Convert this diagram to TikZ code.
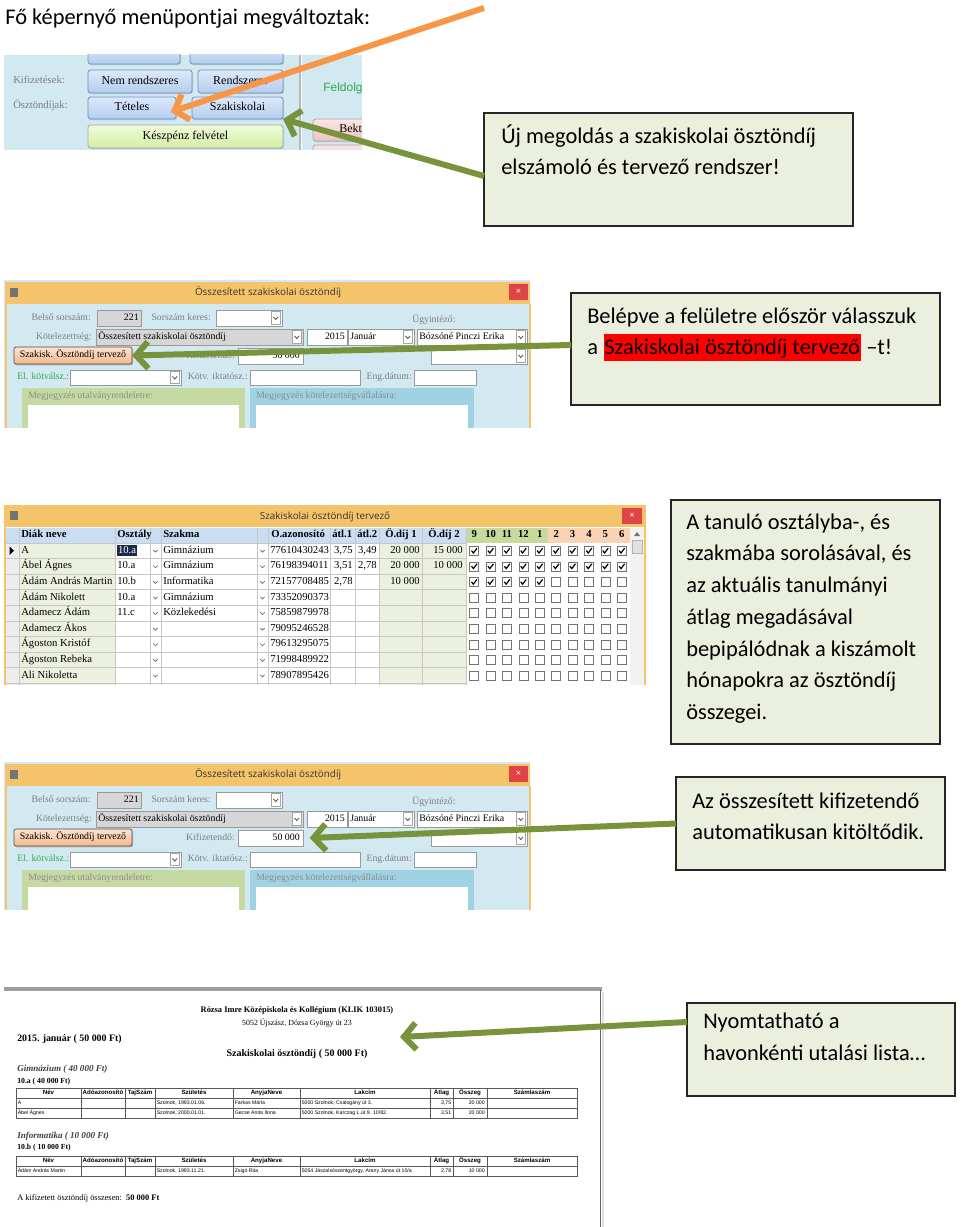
\documentclass[tikz,border=0pt]{standalone}
\usepackage{fontspec}
\setmainfont{Carlito}
\newfontfamily\ser{Liberation Serif}
\newfontfamily\uifont{Open Sans}
\newfontfamily\arl{Liberation Sans}
\usetikzlibrary{arrows.meta,shadows}

\definecolor{calfill}{HTML}{EBF0DE}
\definecolor{arrgreen}{HTML}{77933C}
\definecolor{arrorange}{HTML}{F79646}
\definecolor{scrbg}{HTML}{D2E9F1}
\definecolor{titlebar}{HTML}{F5C46A}
\definecolor{closered}{HTML}{E04343}
\definecolor{btntop}{HTML}{DCE9FA}
\definecolor{btnbot}{HTML}{B4CDEE}
\definecolor{btnborder}{HTML}{6F8FBF}
\definecolor{btngtop}{HTML}{F0FBDA}
\definecolor{btngbot}{HTML}{D3EEA5}
\definecolor{btnptop}{HTML}{FBE6E6}
\definecolor{btnpbot}{HTML}{EEC3C3}
\definecolor{fieldgray}{HTML}{D6D6D6}
\definecolor{labelgray}{HTML}{7D7D7D}
\definecolor{panelgreen}{HTML}{C5DAA3}
\definecolor{panelblue}{HTML}{9FD2E2}
\definecolor{hdrblue}{HTML}{C9DEF2}
\definecolor{colgreen}{HTML}{EBF1DE}
\definecolor{mongreen}{HTML}{C6DA9E}
\definecolor{monpeach}{HTML}{FAD3B5}
\definecolor{peachtop}{HTML}{FCE3CF}
\definecolor{peachbot}{HTML}{F5B78C}
\definecolor{elgreen}{HTML}{2FA84F}
\definecolor{selnavy}{HTML}{1C2A4A}

\tikzset{
  callout/.style={draw=black!85, line width=1.5pt, fill=calfill},
  ctext/.style={anchor=base west, inner sep=0pt, font=\fontsize{16.8}{20}\selectfont},
  arr/.style={line width=4.5pt, -{Straight Barb[length=9pt,width=20pt]}},
  garr/.style={arr, draw=arrgreen},
  oarr/.style={arr, draw=arrorange},
  lbl/.style={inner sep=0pt, text height=5pt, text depth=1.6pt, text=labelgray, font=\ser\fontsize{7.3}{8}\selectfont},
  ftxt/.style={inner sep=0pt, text height=5pt, text depth=1.6pt, font=\ser\fontsize{7.4}{8}\selectfont},
  fld/.style={draw=black!40, line width=0.5pt, fill=white},
  gfld/.style={draw=black!40, line width=0.5pt, fill=fieldgray},
  bbtn/.style={draw=btnborder, line width=0.6pt, rounded corners=2pt, top color=btntop, bottom color=btnbot, font=\ser\fontsize{9}{10}\selectfont, text height=6.2pt, text depth=2pt, drop shadow={opacity=0.3, shadow xshift=0.8pt, shadow yshift=-0.8pt}},
  gbtn/.style={bbtn, draw=black!35, top color=btngtop, bottom color=btngbot},
  pbtn/.style={bbtn, draw=black!35, top color=btnptop, bottom color=btnpbot},
  pchbtn/.style={draw=black!70, line width=0.5pt, rounded corners=1.5pt, top color=peachtop, bottom color=peachbot, font=\ser\fontsize{7.4}{8}\selectfont, text height=5pt, text depth=1.6pt, drop shadow={opacity=0.45, shadow xshift=0.8pt, shadow yshift=-1pt}},
  ttl/.style={inner sep=0pt, text height=5.5pt, text depth=1.6pt, text=black!80, font=\uifont\fontsize{7.4}{8}\selectfont},
  hdr/.style={inner sep=0pt, text height=5.5pt, text depth=1.8pt, font=\ser\bfseries\fontsize{8}{9}\selectfont},
  cell/.style={inner sep=0pt, text height=5.5pt, text depth=1.8pt, font=\ser\fontsize{8}{9}\selectfont},
  pcell/.style={inner sep=0pt, text height=2.8pt, text depth=0.8pt, font=\arl\fontsize{3.9}{4}\selectfont},
  phdr/.style={inner sep=0pt, text height=3.4pt, text depth=1pt, font=\arl\bfseries\fontsize{4.6}{5}\selectfont},
  grid3/.style={draw=black!22, line width=0.5pt},
  ptab/.style={draw=black!65, line width=0.45pt},
}

% rectangular node from pixel corners: name, style, x1, y1, x2, y2, text
\newcommand\rbox[7]{%
  \node[#2, inner sep=0pt, outer sep=0pt, minimum width={(#5-#3)*0.75pt}, minimum height={(#6-#4)*0.75pt}] (#1) at ({(#3+#5)/2},{(#4+#6)/2}) {#7};}

% combo box: name, x1, y1, x2, y2, text, style
\newcommand\combo[7]{%
  \rbox{#1}{#7}{#2}{#3}{#4}{#5}{}
  \draw[black!35, fill=white, line width=0.4pt] (#4-11,#3+1.5) rectangle (#4-1.5,#5-1.5);
  \draw[black!70, line width=0.6pt] (#4-8.5,{(#3+#5)/2-1}) -- (#4-6.25,{(#3+#5)/2+1.5}) -- (#4-4,{(#3+#5)/2-1});
  \node[ftxt, anchor=west] (#1t) at (#2+2,{(#3+#5)/2}) {#6};}

% the "Összesített szakiskolai ösztöndíj" form, prefix #1
\newcommand\formshot[1]{%
  \fill[scrbg] (4,280) rectangle (530,428);
  \fill[titlebar] (5,282) rectangle (530,304);
  \draw[titlebar, line width=1.5pt] (5.5,304) -- (5.5,428) (529.5,304) -- (529.5,428);
  \node[ttl] (#1title) at (268,293) {Összesített szakiskolai ösztöndíj};
  \rbox{#1close}{fill=closered}{509}{284}{528}{300}{}
  \node[text=white, inner sep=0pt, font=\uifont\fontsize{7}{7}\selectfont] (#1x) at (#1close) {×};
  \rbox{#1icon}{fill=black!55}{10}{288}{18}{297}{}
  \node[lbl, anchor=east] (#1l1) at (91,318) {Belső sorszám:};
  \rbox{#1f1}{gfld}{97}{310}{141}{326}{}
  \node[ftxt, anchor=east] (#1f1t) at (139,318) {221};
  \node[lbl, anchor=east] (#1l2) at (211,318) {Sorszám keres:};
  \combo{#1f2}{216}{310}{282}{326}{}{fld}
  \node[lbl, anchor=west] (#1l3) at (412,320) {Ügyintéző:};
  \node[lbl, anchor=east] (#1l4) at (92,337) {Kötelezettség:};
  \combo{#1f3}{96}{329}{303}{345}{Összesített szakiskolai ösztöndíj}{gfld}
  \rbox{#1f4}{fld}{307}{329}{347}{345}{}
  \node[ftxt, anchor=east] (#1f4t) at (345,337) {2015};
  \combo{#1f5}{348}{329}{414}{345}{Január}{fld}
  \combo{#1f6}{417}{329}{527}{345}{Bózsóné Pinczi Erika}{fld}
  \rbox{#1btn}{pchbtn}{14}{347}{132}{364}{Szakisk. Ösztöndíj tervező}
  \node[lbl, anchor=east] (#1l5) at (235,356) {Kifizetendő:};
  \rbox{#1f7}{fld}{238}{348}{303}{364}{}
  \node[ftxt, anchor=east] (#1f7t) at (300,356) {50 000};
  \combo{#1f8}{431}{348}{527}{364}{}{fld}
  \node[lbl, anchor=west, text=elgreen] (#1l6) at (17,377) {El. kötválsz.:};
  \combo{#1f9}{70}{370}{181}{385}{}{fld}
  \node[lbl, anchor=east] (#1l7) at (248,377) {Kötv. iktatósz.:};
  \rbox{#1f10}{fld}{250}{370}{360}{385}{}
  \node[lbl, anchor=east] (#1l8) at (412,377) {Eng.dátum:};
  \rbox{#1f11}{fld}{414}{370}{476}{385}{}
  \fill[panelgreen] (22,388) rectangle (245,428);
  \node[lbl, anchor=west, text=black!45] (#1p1) at (28,396) {Megjegyzés utalványrendeletre:};
  \fill[white] (28,405) rectangle (239,428);
  \fill[panelblue] (250,388) rectangle (474,428);
  \node[lbl, anchor=west, text=black!45] (#1p2) at (256,396) {Megjegyzés kötelezettségvállalásra:};
  \fill[white] (256,405) rectangle (468,428);
}

% print table: prefix, top y, data rows
\newcommand\prtab[3]{%
  \pgfmathsetmacro\ybot{#2+10+10*#3}
  \draw[ptab] (16,#2) rectangle (577,\ybot);
  \foreach \k in {1,...,#3} \draw[ptab] (16,{#2+10*\k}) -- (577,{#2+10*\k});
  \foreach \xx in {81,125,155,233,300,430,453,487} \draw[ptab] (\xx,#2) -- (\xx,\ybot);
  \foreach \tt/\cc [count=\k] in {Név/48.5, Adóazonosító/103, TajSzám/140, Születés/194, AnyjaNeve/266.5, Lakcím/365, Átlag/441.5, Összeg/470, Számlaszám/532}
    \node[phdr] (#1h\k) at (\cc,{#2+5}) {\tt};
}
% print row: prefix, y center, name, birth, mother, address, avg, sum
\newcommand\prrow[8]{%
  \node[pcell, anchor=west] (#1a) at (17.5,#2) {#3};
  \node[pcell, anchor=west] (#1b) at (156.5,#2) {#4};
  \node[pcell, anchor=west] (#1c) at (234.5,#2) {#5};
  \node[pcell, anchor=west] (#1d) at (301.5,#2) {#6};
  \node[pcell, anchor=east] (#1e) at (451.5,#2) {#7};
  \node[pcell, anchor=east] (#1f) at (485,#2) {#8};
}

\begin{document}
\begin{tikzpicture}[x=0.75pt,y=-0.75pt]
\useasboundingbox (0,0) rectangle (960,1227);
\fill[white] (0,0) rectangle (960,1227);

% ---------- title
\node[ctext] (title) at (5,25) {Fő képernyő menüpontjai megváltoztak:};

% ---------- screenshot 1: main menu
\begin{scope}
  \clip (4,55) rectangle (362,150);
  \fill[scrbg] (4,55) rectangle (362,150);
  \rbox{bTop1}{bbtn}{88}{44}{180}{64}{}
  \rbox{bTop2}{bbtn}{190}{44}{283}{64}{}
  \node[lbl, anchor=west, font=\ser\fontsize{8}{9}\selectfont] (lKif) at (13,81) {Kifizetések:};
  \node[lbl, anchor=west, font=\ser\fontsize{8}{9}\selectfont] (lOszt) at (13,106) {Ösztöndíjak:};
  \rbox{bNem}{bbtn}{88}{70}{192}{93}{Nem rendszeres}
  \rbox{bRend}{bbtn}{198}{70}{283}{93}{Rendszeres}
  \rbox{bTet}{bbtn}{88}{97}{176}{119}{Tételes}
  \rbox{bSzak}{bbtn}{192}{97}{283}{119}{Szakiskolai}
  \rbox{bKesz}{gbtn}{88}{125}{283}{148}{Készpénz felvétel}
  \draw[black!28, line width=0.9pt] (300,55) -- (300,150);
  \draw[white, line width=0.6pt] (301.5,55) -- (301.5,150);
  \node[anchor=west, inner sep=0pt, text=elgreen, font=\arl\fontsize{9}{10}\selectfont] (lFeld) at (323,88) {Feldolg};
  \rbox{bBekt}{pbtn}{313}{119}{380}{141}{}
  \node[anchor=west, inner sep=0pt, font=\ser\fontsize{9}{10}\selectfont] (tBekt) at (339,128) {Bekt};
  \rbox{bPink}{pbtn}{313}{145}{380}{162}{}
\end{scope}

% ---------- callout 1
\rbox{cal1}{callout}{484}{113}{853}{226}{}
\node[ctext] (c1a) at (501,144) {Új megoldás a szakiskolai ösztöndíj};
\node[ctext] (c1b) at (501,175) {elszámoló és tervező rendszer!};

% ---------- screenshot 2
\formshot{s2}

% ---------- callout 2
\rbox{cal2}{callout}{571}{293}{940}{405}{}
\node[ctext] (c2a) at (587,323) {Belépve a felületre először válasszuk};
\node[ctext] (c2b) at (587,354) {\mbox{a\hspace{3.8pt}}};
\node[ctext, fill=red, inner xsep=0.5pt, inner ysep=0pt, text height=15pt, text depth=5.5pt] (c2c) at (c2b.base east) {Szakiskolai ösztöndíj tervező};
\node[ctext] (c2d) at (c2c.base east) {\mbox{\hspace{3.8pt}–t!}};

% ---------- screenshot 3: grid
\fill[white] (4,503) rectangle (646,685);
\fill[titlebar] (4,505) rectangle (646,527);
\draw[titlebar, line width=1.5pt] (5,527) -- (5,685) (645,527) -- (645,685);
\node[ttl] (t3title) at (325,517) {Szakiskolai ösztöndíj tervező};
\rbox{t3close}{fill=closered}{622}{508}{642}{524}{}
\node[text=white, inner sep=0pt, font=\uifont\fontsize{7}{7}\selectfont] (t3x) at (t3close) {×};
\rbox{t3icon}{fill=black!55}{10}{511}{18}{520}{}
\fill[hdrblue] (6,528) rectangle (466,543);
\fill[mongreen] (466,528) rectangle (548,543);
\fill[monpeach] (548,528) rectangle (630,543);
\fill[black!7] (6,543) rectangle (19,685);
\fill[colgreen] (19,543) rectangle (115,685);
\fill[colgreen] (379,543) rectangle (466,685);
\fill[black!5] (630,528) rectangle (644,685);
\fill[black!55] (634,536) -- (637,532) -- (640,536) -- cycle;
\draw[black!30, fill=black!12, line width=0.4pt] (632,540) rectangle (642,553);
\foreach \i in {0,...,9} \draw[grid3] (6,{543+15.6*\i}) -- (466,{543+15.6*\i});
\foreach \xx in {19,115,150,161,257,268,330,355,379,422,466} \draw[grid3] (\xx,528) -- (\xx,685);
\foreach \i in {1,...,9} {
  \foreach \xx in {155.5,262.5}
    \draw[black!60, line width=0.5pt] (\xx-2.2,{535.2+15.6*\i-0.8}) -- (\xx,{535.2+15.6*\i+1.3}) -- (\xx+2.2,{535.2+15.6*\i-0.8});
}
\fill[black] (9.5,546.5) -- (14,550.7) -- (9.5,555) -- cycle;
\node[hdr, anchor=west] (h1) at (21,535.5) {Diák neve};
\node[hdr, anchor=west] (h2) at (117,535.5) {Osztály};
\node[hdr, anchor=west] (h3) at (163,535.5) {Szakma};
\node[hdr, anchor=west] (h4) at (271,535.5) {O.azonosító};
\node[hdr, anchor=west] (h5) at (332,535.5) {átl.1};
\node[hdr, anchor=west] (h6) at (357,535.5) {átl.2};
\node[hdr, anchor=west] (h7) at (385,535.5) {Ö.díj 1};
\node[hdr, anchor=west] (h8) at (428,535.5) {Ö.díj 2};
\foreach \mm [count=\j from 0] in {9,10,11,12,1,2,3,4,5,6}
  \node[hdr] (mon\j) at (474.2+16.4*\j,535.5) {\mm};
\foreach \nn [count=\i] in {A,Ábel Ágnes,Ádám András Martin,Ádám Nikolett,Adamecz Ádám,Adamecz Ákos,Ágoston Kristóf,Ágoston Rebeka,Ali Nikoletta}
  \node[cell, anchor=west] (nm\i) at (21,{535.2+15.6*\i}) {\nn};
\foreach \nn [count=\i] in {77610430243,76198394011,72157708485,73352090373,75859879978,79095246528,79613295075,71998489922,78907895426}
  \node[cell, anchor=west] (id\i) at (270,{535.2+15.6*\i}) {\nn};
\node[cell, anchor=west, fill=selnavy, text=white, inner sep=0.6pt] (os1) at (117,550.8) {10.a};
\foreach \nn [count=\i from 2] in {10.a,10.b,10.a,11.c}
  \node[cell, anchor=west] (os\i) at (117,{535.2+15.6*\i}) {\nn};
\foreach \nn [count=\i] in {Gimnázium,Gimnázium,Informatika,Gimnázium,Közlekedési}
  \node[cell, anchor=west] (sz\i) at (163,{535.2+15.6*\i}) {\nn};
\node[cell, anchor=east] (a11) at (353,550.8) {3,75};
\node[cell, anchor=east] (a12) at (353,566.4) {3,51};
\node[cell, anchor=east] (a13) at (353,582.0) {2,78};
\node[cell, anchor=east] (a21) at (377,550.8) {3,49};
\node[cell, anchor=east] (a22) at (377,566.4) {2,78};
\node[cell, anchor=east] (d11) at (420,550.8) {20 000};
\node[cell, anchor=east] (d12) at (420,566.4) {20 000};
\node[cell, anchor=east] (d13) at (420,582.0) {10 000};
\node[cell, anchor=east] (d21) at (463,550.8) {15 000};
\node[cell, anchor=east] (d22) at (463,566.4) {10 000};
\foreach \i in {1,...,9} {
  \foreach \j in {0,...,9} {
    \pgfmathsetmacro\cx{474.2+16.4*\j}
    \pgfmathsetmacro\cy{535.2+15.6*\i}
    \draw[black!55, fill=white, line width=0.5pt] (\cx-4.5,\cy-4.5) rectangle (\cx+4.5,\cy+4.5);
    \pgfmathtruncatemacro\chk{(\i<3)||((\i==3)&&(\j<5))}
    \ifnum\chk=1
      \draw[black, line width=0.9pt] (\cx-2.7,\cy-0.2) -- (\cx-0.8,\cy+2.2) -- (\cx+2.8,\cy-2.6);
    \fi
  }
}

% ---------- callout 3
\rbox{cal3}{callout}{671}{500}{940}{744}{}
\foreach \tl [count=\k from 0] in {A tanuló osztályba-{,} és,szakmába sorolásával{,} és,az aktuális tanulmányi,átlag megadásával,bepipálódnak a kiszámolt,hónapokra az ösztöndíj,összegei.}
  \node[ctext] (c3l\k) at (686,{529+31.75*\k}) {\tl};

% ---------- screenshot 4
\begin{scope}[shift={(0,482)}]
  \formshot{s4}
\end{scope}

% ---------- callout 4
\rbox{cal4}{callout}{676}{777}{945}{870}{}
\node[ctext] (c4a) at (692,808) {Az összesített kifizetendő};
\node[ctext] (c4b) at (692,839) {automatikusan kitöltődik.};

% ---------- screenshot 5: printout
\fill[white] (4,988) rectangle (600,1227);
\fill[black!38] (4,987) rectangle (602,990.5);
\fill[black!12] (601.5,992) rectangle (603.5,1227);
\draw[black!60, line width=1.1pt] (600.5,990) -- (600.5,1227);
\node[inner sep=0pt, font=\ser\bfseries\fontsize{6.3}{7}\selectfont] (pr1) at (297,1010) {Rózsa Imre Középiskola és Kollégium (KLIK 103015)};
\node[inner sep=0pt, font=\ser\fontsize{5.9}{7}\selectfont] (pr2) at (297,1023) {5052 Újszász, Dózsa György út 23};
\node[inner sep=0pt, anchor=west, font=\ser\bfseries\fontsize{7.4}{8}\selectfont] (pr3) at (17,1039) {2015. január ( 50 000 Ft)};
\node[inner sep=0pt, font=\ser\bfseries\fontsize{7.5}{8}\selectfont] (pr4) at (297,1054) {Szakiskolai ösztöndíj ( 50 000 Ft)};
\node[inner sep=0pt, anchor=west, text=black!75, font=\ser\bfseries\itshape\fontsize{6.8}{8}\selectfont] (pr5) at (17,1069) {Gimnázium ( 40 000 Ft)};
\node[inner sep=0pt, anchor=west, font=\ser\bfseries\fontsize{5.8}{7}\selectfont] (pr6) at (17,1082) {10.a ( 40 000 Ft)};
\prtab{t1}{1088}{2}
\prrow{t1r1}{1103}{A}{Szolnok, 1993.01.06.}{Farkas Mária}{5000 Szolnok, Csalogány út 3.}{3,75}{20 000}
\prrow{t1r2}{1113}{Ábel Ágnes}{Szolnok, 2000.01.01.}{Gecse Anita Ilona}{5000 Szolnok, Karczag L.út 9. 10/82.}{3,51}{20 000}
\node[inner sep=0pt, anchor=west, text=black!75, font=\ser\bfseries\itshape\fontsize{6.8}{8}\selectfont] (pr7) at (17,1136) {Informatika ( 10 000 Ft)};
\node[inner sep=0pt, anchor=west, font=\ser\bfseries\fontsize{5.8}{7}\selectfont] (pr8) at (17,1148) {10.b ( 10 000 Ft)};
\prtab{t2}{1156}{1}
\prrow{t2r1}{1171}{Ádám András Martin}{Szolnok, 1993.11.21.}{Zsigó Rita}{5054 Jászalsószentgyörgy, Arany János út 10/a}{2,78}{10 000}
\node[inner sep=0pt, anchor=west, font=\ser\fontsize{6.3}{7}\selectfont] (pr9) at (17,1198) {A kifizetett ösztöndíj összesen:\ \ \textbf{50 000 Ft}};

% ---------- callout 5
\rbox{cal5}{callout}{687}{1003}{955}{1096}{}
\node[ctext] (c5a) at (703,1028) {Nyomtatható a};
\node[ctext] (c5b) at (703,1060) {havonkénti utalási lista…};

% ---------- arrows
\coordinate (o1s) at (484,8);
\draw[oarr] (o1s) -- ([xshift=-4pt,yshift=-3pt]bTet.east);
\coordinate (g1s) at (484,176);
\draw[garr] (g1s) -- (bSzak.south east);
\draw[garr] ([yshift=3pt]cal2.west) -- (s2btn.east);
\draw[garr] (cal4.west) -- ([xshift=5pt]s4f7.east);
\coordinate (g4s) at (687,1022);
\coordinate (g4e) at (400,1037);
\draw[garr] (g4s) -- (g4e);
\end{tikzpicture}
\end{document}
